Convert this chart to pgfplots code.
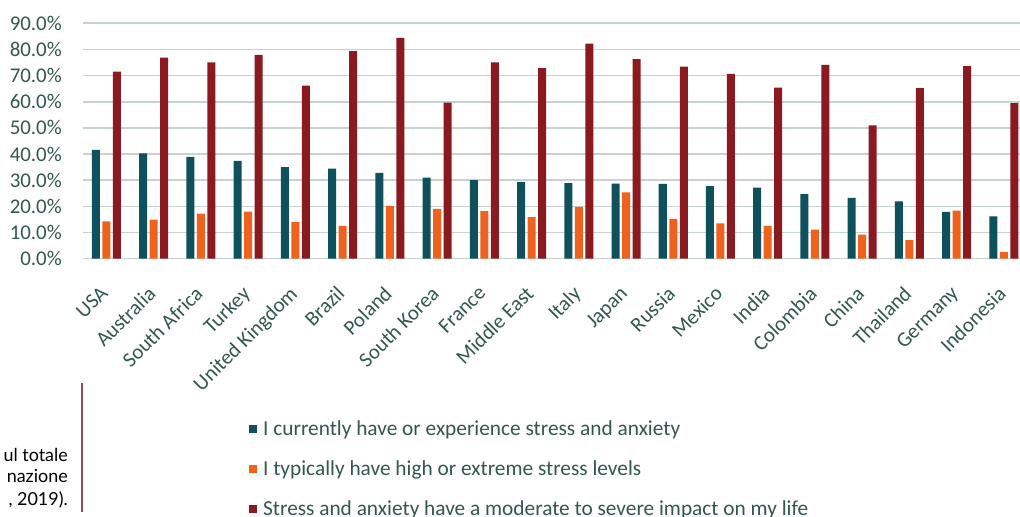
\documentclass[border=0pt]{standalone}
\usepackage{pgfplots}
\usepackage{pgfplotstable}
\pgfplotsset{compat=1.18}
\usepackage{fontspec}
\setmainfont{Carlito}
\newfontfamily\latofont{Lato}
\definecolor{cteal}{RGB}{14,80,92}
\definecolor{corange}{RGB}{238,98,30}
\definecolor{cred}{RGB}{138,26,31}
\definecolor{ctext}{RGB}{50,88,74}
\definecolor{cgrid}{RGB}{200,210,206}
\definecolor{cline}{RGB}{140,80,80}

\pgfplotstableread{
x teal orange red
0 41.6 14.3 71.5
1 40.3 14.9 76.9
2 38.9 17.2 75.1
3 37.4 18.0 77.9
4 35.0 14.0 66.2
5 34.4 12.5 79.4
6 32.8 20.2 84.4
7 31.0 19.0 59.7
8 30.0 18.2 75.1
9 29.3 15.9 72.9
10 28.9 19.8 82.2
11 28.7 25.4 76.3
12 28.6 15.2 73.4
13 27.7 13.5 70.7
14 27.2 12.5 65.4
15 24.7 11.1 74.1
16 23.3 9.2 51.0
17 21.9 7.1 65.2
18 17.9 18.4 73.6
19 16.2 2.6 59.5
}\datatable

\begin{document}
\begin{tikzpicture}[x=1bp,y=1bp]
\path[use as bounding box] (0,0) rectangle (1020,517);
\begin{axis}[
  at={(82.7bp,258.3bp)}, anchor=south west,
  scale only axis, width=937.3bp, height=235.4bp,
  xmin=-0.5, xmax=19.34, ymin=0, ymax=90,
  axis line style={draw=none},
  ymajorgrids, grid style={cgrid, line width=1.6bp},
  major tick length=0pt,
  ytick={0,10,...,90},
  yticklabels={0.0\%,10.0\%,20.0\%,30.0\%,40.0\%,50.0\%,60.0\%,70.0\%,80.0\%,90.0\%},
  yticklabel style={font=\fontsize{21}{25}\selectfont, text=ctext, inner sep=0pt, anchor=east, xshift=-20.7bp},
  xtick={0,...,19},
  xticklabels={USA,Australia,South Africa,Turkey,United Kingdom,Brazil,Poland,South Korea,France,Middle East,Italy,Japan,Russia,Mexico,India,Colombia,China,Thailand,Germany,Indonesia},
  xticklabel style={font=\fontsize{21}{25}\selectfont, text=ctext, inner sep=0pt, yshift=-26bp, xshift=-7bp, rotate=45, anchor=north east},
  ybar=2.5bp, bar width=8bp,
  legend image code/.code={\fill[#1,draw=none] (0bp,-4bp) rectangle (8bp,4bp); \path (13bp,0bp);},
  legend style={at={(0.1742,-0.675)}, anchor=north west, draw=none, fill=none,
    font=\fontsize{21.4}{25}\selectfont, text=ctext, row sep=21.5bp,
    nodes={inner sep=1bp}},
  legend cell align=left,
]
\addplot[fill=cteal, draw=none] table[x=x, y=teal] {\datatable};
\addlegendentry{I currently have or experience stress and anxiety}
\addplot[fill=corange, draw=none] table[x=x, y=orange] {\datatable};
\addlegendentry{I typically have high or extreme stress levels}
\addplot[fill=cred, draw=none] table[x=x, y=red] {\datatable};
\addlegendentry{Stress and anxiety have a moderate to severe impact on my life}
\end{axis}
\draw[cline, line width=2bp] (82,134) -- (82,5);
\node[anchor=base east, inner sep=0pt, font=\latofont\fontsize{18}{22}\selectfont] at (68,55) {ul totale};
\node[anchor=base east, inner sep=0pt, font=\latofont\fontsize{18}{22}\selectfont] at (68,34) {nazione};
\node[anchor=base east, inner sep=0pt, font=\latofont\fontsize{18}{22}\selectfont] at (68,11) {, 2019).};
\end{tikzpicture}
\end{document}
